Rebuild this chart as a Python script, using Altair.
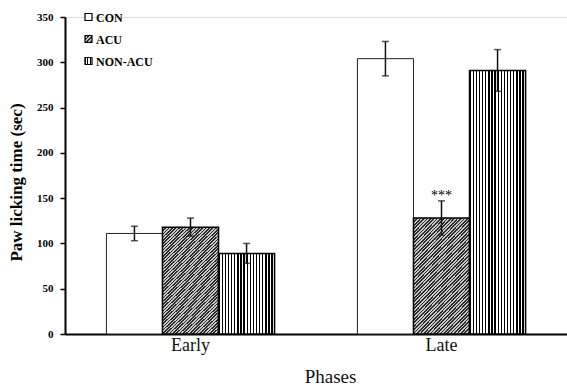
import altair as alt
import pandas as pd

phases = ["Early", "Early", "Early", "Late", "Late", "Late"]
groups = ["CON", "ACU", "NON-ACU"]
group_col = groups * 2
means = [111, 118, 89, 304, 128, 291]
errs = [8, 10, 11, 19, 19, 23]
y_ticks = [0, 50, 100, 150, 200, 250, 300, 350]
star_label = "***"

df = pd.DataFrame({"phase": phases, "group": group_col, "mean": means, "err": errs})
df["lo"] = df["mean"] - df["err"]
df["hi"] = df["mean"] + df["err"]
df["star"] = ["", "", "", "", star_label, ""]

SERIF = "Liberation Serif"


def stripes(n, frac, x2, y2, dark="black", light="white"):
    stops = []
    for i in range(n):
        s = i / n
        m = (i + frac) / n
        e = (i + 1) / n
        stops += [alt.GradientStop(color=dark, offset=s), alt.GradientStop(color=dark, offset=m),
                  alt.GradientStop(color=light, offset=m), alt.GradientStop(color=light, offset=e)]
    return alt.Gradient(gradient="linear", stops=stops, x1=0, y1=0, x2=x2, y2=y2)


vert = stripes(18, 0.42, 1, 0)
diag = stripes(50, 0.5, 0.6, 1.2, dark="#2a2a2a", light="#c8c8c8")
leg_vert = stripes(3, 0.5, 1, 0)
leg_diag = stripes(4, 0.5, 1, 1, dark="#2a2a2a", light="#c8c8c8")

xenc = alt.X("phase:N", title="Phases",
             scale=alt.Scale(paddingInner=0.33, paddingOuter=0.165),
             axis=alt.Axis(labelAngle=0, ticks=False, domainWidth=2, domainColor="black",
                           labelFont=SERIF, labelFontSize=18, labelColor="#111", labelPadding=2,
                           titleFont=SERIF, titleFontSize=19, titleFontWeight="normal",
                           titleColor="#111", titleX=265, titleY=48,
                           titleBaseline="alphabetic", titleAlign="center"))
xoff = alt.XOffset("group:N", scale=alt.Scale(domain=groups, paddingInner=0.0, paddingOuter=0.0))
yenc = alt.Y("mean:Q", title="Paw licking time (sec)",
             scale=alt.Scale(domain=[0, 350], nice=False),
             axis=alt.Axis(values=y_ticks, grid=False, domainWidth=2, domainColor="black",
                           tickSize=5, tickWidth=1.5, tickColor="black",
                           labelFont=SERIF, labelFontSize=11, labelFontWeight="bold",
                           labelColor="black", labelPadding=7,
                           titleFont=SERIF, titleFontSize=17, titleFontWeight="bold",
                           titleColor="black", titleX=-44, titleY=165,
                           titleBaseline="alphabetic", titleAlign="center", titleAngle=270))

base = alt.Chart(df).encode(x=xenc, xOffset=xoff)

bar_con = base.transform_filter("datum.group == 'CON'").mark_bar(
    fill="white", stroke="#222", strokeWidth=1).encode(y=yenc)
bar_acu = base.transform_filter("datum.group == 'ACU'").mark_bar(
    fill=diag, stroke="black", strokeWidth=1.5).encode(y=yenc)
bar_non = base.transform_filter("datum.group == 'NON-ACU'").mark_bar(
    fill=vert, stroke="black", strokeWidth=1.5).encode(y=yenc)

rule = base.mark_rule(color="#111", strokeWidth=1.5).encode(y="lo:Q", y2="hi:Q")
cap_hi = base.mark_tick(color="#111", thickness=1.5, size=7).encode(y="hi:Q")
cap_lo = base.mark_tick(color="#111", thickness=1.5, size=7).encode(y="lo:Q")
stars = base.mark_text(font=SERIF, fontSize=14, baseline="bottom", dy=2, color="black").encode(
    y="hi:Q", text="star:N")

# manual legend (pixel positions relative to plot area)
legend_df = pd.DataFrame({"label": groups})
leg_rows = [0, 22, 44]
leg_fills = ["white", leg_diag, leg_vert]
leg_layers = []
for lab, yy, fl in zip(groups, leg_rows, leg_fills):
    d = legend_df[legend_df["label"] == lab]
    leg_layers.append(alt.Chart(d).mark_rect(fill=fl, stroke="black", strokeWidth=1.2).encode(
        x=alt.value(20), x2=alt.value(27), y=alt.value(yy - 3.5), y2=alt.value(yy + 3.5)))
    leg_layers.append(alt.Chart(d).mark_text(font=SERIF, fontSize=12, fontWeight="bold", align="left",
                                             baseline="middle", color="black").encode(
        x=alt.value(31), y=alt.value(yy + 0.5), text="label:N"))

chart = alt.layer(bar_con, bar_acu, bar_non, rule, cap_hi, cap_lo, stars, *leg_layers).properties(
    width=502, height=317,
    autosize=alt.AutoSizeParams(type="none"),
    padding={"left": 65, "top": 17, "right": 0, "bottom": 51},
).configure_view(stroke=None).configure(background="white")

chart.save("out.html", embed_options={"renderer": "svg", "actions": False})
